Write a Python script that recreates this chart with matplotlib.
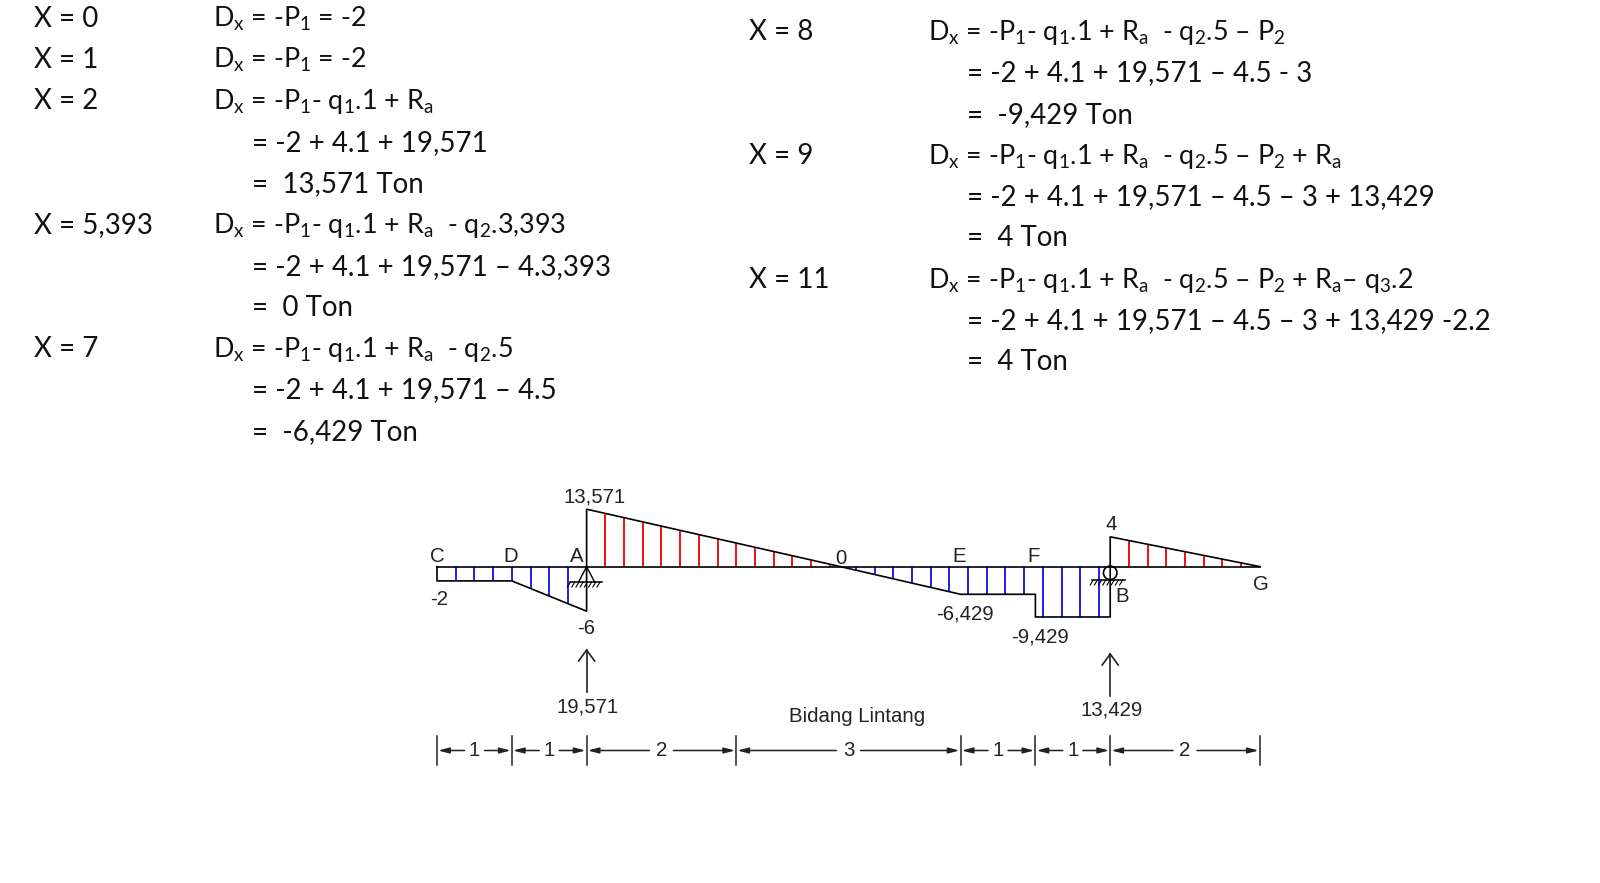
import matplotlib
matplotlib.use("Agg")
import matplotlib.pyplot as plt
import numpy as np

W, H = 1600, 883
plt.rcParams['font.family'] = ['Lato', 'DejaVu Sans']
plt.rcParams['mathtext.fontset'] = 'custom'
plt.rcParams['mathtext.rm'] = 'Lato'
plt.rcParams['mathtext.default'] = 'rm'

# --- calculation text: (column, text) by row
x_left = ["X = 0", "X = 1", "X = 2", "", "", "X = 5,393", "", "", "X = 7", "", ""]
eq_left = [
    "D$_{x}$ = -P$_{1}$ = -2",
    "D$_{x}$ = -P$_{1}$ = -2",
    "D$_{x}$ = -P$_{1}$- q$_{1}$.1 + R$_{a}$",
    "    = -2 + 4.1 + 19,571",
    "    =  13,571 Ton",
    "D$_{x}$ = -P$_{1}$- q$_{1}$.1 + R$_{a}$  - q$_{2}$.3,393",
    "    = -2 + 4.1 + 19,571 \u2013 4.3,393",
    "    =  0 Ton",
    "D$_{x}$ = -P$_{1}$- q$_{1}$.1 + R$_{a}$  - q$_{2}$.5",
    "    = -2 + 4.1 + 19,571 \u2013 4.5",
    "    =  -6,429 Ton",
]
x_right = ["X = 8", "", "", "X = 9", "", "", "X = 11", "", ""]
eq_right = [
    "D$_{x}$ = -P$_{1}$- q$_{1}$.1 + R$_{a}$  - q$_{2}$.5 \u2013 P$_{2}$",
    "    = -2 + 4.1 + 19,571 \u2013 4.5 - 3",
    "    =  -9,429 Ton",
    "D$_{x}$ = -P$_{1}$- q$_{1}$.1 + R$_{a}$  - q$_{2}$.5 \u2013 P$_{2}$ + R$_{a}$",
    "    = -2 + 4.1 + 19,571 \u2013 4.5 \u2013 3 + 13,429",
    "    =  4 Ton",
    "D$_{x}$ = -P$_{1}$- q$_{1}$.1 + R$_{a}$  - q$_{2}$.5 \u2013 P$_{2}$ + R$_{a}$\u2013 q$_{3}$.2",
    "    = -2 + 4.1 + 19,571 \u2013 4.5 \u2013 3 + 13,429 -2.2",
    "    =  4 Ton",
]

# --- shear diagram, x in metres, ordinate as drawn (the sketch is not to scale)
outline_x = [0, 0, 1, 2, 2, 5.393, 7, 8, 8, 9, 9, 11]
outline_y = [0, -14.3, -14.3, -44.6, 57.4, 0, -27.7, -27.7, -50.4, -50.4, 29.8, 0]
axis_x = [0, 11]

red_x = [2.25, 2.5, 2.75, 3.0, 3.25, 3.5, 3.75, 4.0, 4.25, 4.5, 4.75, 5.0, 5.25,
         9.25, 9.5, 9.75, 10.0, 10.25, 10.5, 10.75]
red_y = [53.2, 49.0, 44.7, 40.5, 36.3, 32.0, 27.8, 23.6, 19.4, 15.1, 10.9, 6.6, 2.4,
         26.1, 22.3, 18.6, 14.9, 11.2, 7.5, 3.7]
blue_x = [0.25, 0.5, 0.75, 1.0, 1.25, 1.5, 1.75,
          5.6, 5.85, 6.1, 6.35, 6.6, 6.85, 7.1, 7.35, 7.6, 7.85, 8.1, 8.35, 8.6, 8.85]
blue_y = [-14.3, -14.3, -14.3, -14.3, -21.9, -29.5, -37.0,
          -3.6, -7.9, -12.2, -16.5, -20.8, -25.1, -27.7, -27.7, -27.7, -27.7,
          -50.4, -50.4, -50.4, -50.4]

dim_ticks = [0, 1, 2, 4, 7, 8, 9, 11]
dim_labels = ["1", "1", "2", "3", "1", "1", "2"]

diagram_labels = [
    ("C", 437, 557), ("D", 510.5, 557), ("A", 576.5, 557), ("-2", 439, 599.5),
    ("-6", 586, 629), ("13,571", 594.5, 497), ("19,571", 587.5, 707), ("0", 841, 558),
    ("E", 959, 556), ("F", 1033.5, 556), ("B", 1122, 597), ("4", 1111, 525),
    ("-6,429", 965, 614), ("-9,429", 1040, 637), ("13,429", 1112, 709.5),
    ("G", 1261, 585), ("Bidang Lintang", 857.5, 716),
]

fig = plt.figure(figsize=(W / 100, H / 100), dpi=100, facecolor="white")
X0, Y0, UX = 437.0, 566.6, 74.8
ax = fig.add_axes([0, 0, 1, 1])
ax.set_xlim(-X0 / UX, (W - X0) / UX)
ax.set_ylim(Y0 - H, Y0)
ax.axis("off")


def px(x, y):
    return (x - X0) / UX, Y0 - y


# text rows
FS = 19.9
FS_D = 19.4
TC = "#111111"
row_l = 41.3
for i, (a, b) in enumerate(zip(x_left, eq_left)):
    y = 26.8 + i * row_l
    fig.text(34 / W, 1 - y / H, a, fontsize=FS, color=TC, va="baseline")
    if b.startswith("    "):
        fig.text(252 / W, 1 - y / H, b.strip(), fontsize=FS, color=TC, va="baseline")
    else:
        fig.text(213 / W, 1 - y / H, b, fontsize=FS_D, color=TC, va="baseline")
for i, (a, b) in enumerate(zip(x_right, eq_right)):
    y = 40.0 + i * row_l
    fig.text(749 / W, 1 - y / H, a, fontsize=FS, color=TC, va="baseline")
    if b.startswith("    "):
        fig.text(967 / W, 1 - y / H, b.strip(), fontsize=FS, color=TC, va="baseline")
    else:
        fig.text(928 / W, 1 - y / H, b, fontsize=FS_D, color=TC, va="baseline")

# hatching
ax.vlines(red_x, 0, red_y, color="#f01010", lw=1.4, zorder=2)
ax.vlines(blue_x, 0, blue_y, color="#2020e8", lw=1.4, zorder=2)
# outline
ax.plot(outline_x, outline_y, color="black", lw=1.2, zorder=3)
ax.plot(axis_x, [0, 0], color="black", lw=1.2, zorder=3)

# supports
XA = X0 + 2 * UX
XB = X0 + 9 * UX
GA, GB = 582, 580
ax.plot(*zip(px(XA - 8, GA), px(XA, 566.6), px(XA + 8, GA)), color="black", lw=1.0, zorder=4)
ax.plot(*zip(px(XA - 17, GA), px(XA + 15, GA)), color="black", lw=1.1, zorder=4)
ax.plot(*zip(px(XB - 18, GB), px(XB + 15, GB)), color="black", lw=1.1, zorder=4)
for cx, gy in ((XA - 17, GA), (XB - 18, GB)):
    for k in range(8):
        ax.plot(*zip(px(cx + 1 + k * 4.2, gy), px(cx - 2 + k * 4.2, gy + 5)),
                color="black", lw=0.8, zorder=4)
ax.add_patch(matplotlib.patches.Ellipse(px(XB, 572.8), 13.5 / UX, 13.5, fc="none", ec="black", lw=1.2, zorder=4))

# reaction arrows
for sx, y1, y2 in ((XA, 692, 650), (XB, 696, 654)):
    ax.plot(*zip(px(sx, y1), px(sx, y2)), color="#222222", lw=1.2)
    ax.plot(*zip(px(sx - 8, y2 + 11), px(sx, y2), px(sx + 8, y2 + 11)), color="#222222", lw=1.2)

# dimension line
dim_y = 750.5
tick = [Y0 - 735.5, Y0 - 764.5]
for t in dim_ticks:
    ax.plot([t, t], tick, color="#222222", lw=1.1)
for a, b, lab in zip(dim_ticks[:-1], dim_ticks[1:], dim_labels):
    mid = (a + b) / 2
    gap = 10 / UX if b - a == 1 else 12 / UX
    ax.text(mid, Y0 - dim_y - 0.5, lab, ha="center", va="center", fontsize=14.7,
            family="Liberation Sans", color="#222222")
    for end, start in ((a, mid - gap), (b, mid + gap)):
        ax.annotate("", xy=(end + (0.015 if end == a else -0.015), Y0 - dim_y),
                    xytext=(start, Y0 - dim_y),
                    arrowprops=dict(arrowstyle="-|>,head_length=0.5,head_width=0.13",
                                    color="#222222", lw=1.1, shrinkA=0, shrinkB=0,
                                    mutation_scale=13))

for lab, x, y in diagram_labels:
    xx, yy = px(x, y)
    ax.text(xx, yy, lab, ha="center", va="center", fontsize=14.7,
            family="Liberation Sans", color="#222222")

fig.savefig("out.png", dpi=100, facecolor="white")
